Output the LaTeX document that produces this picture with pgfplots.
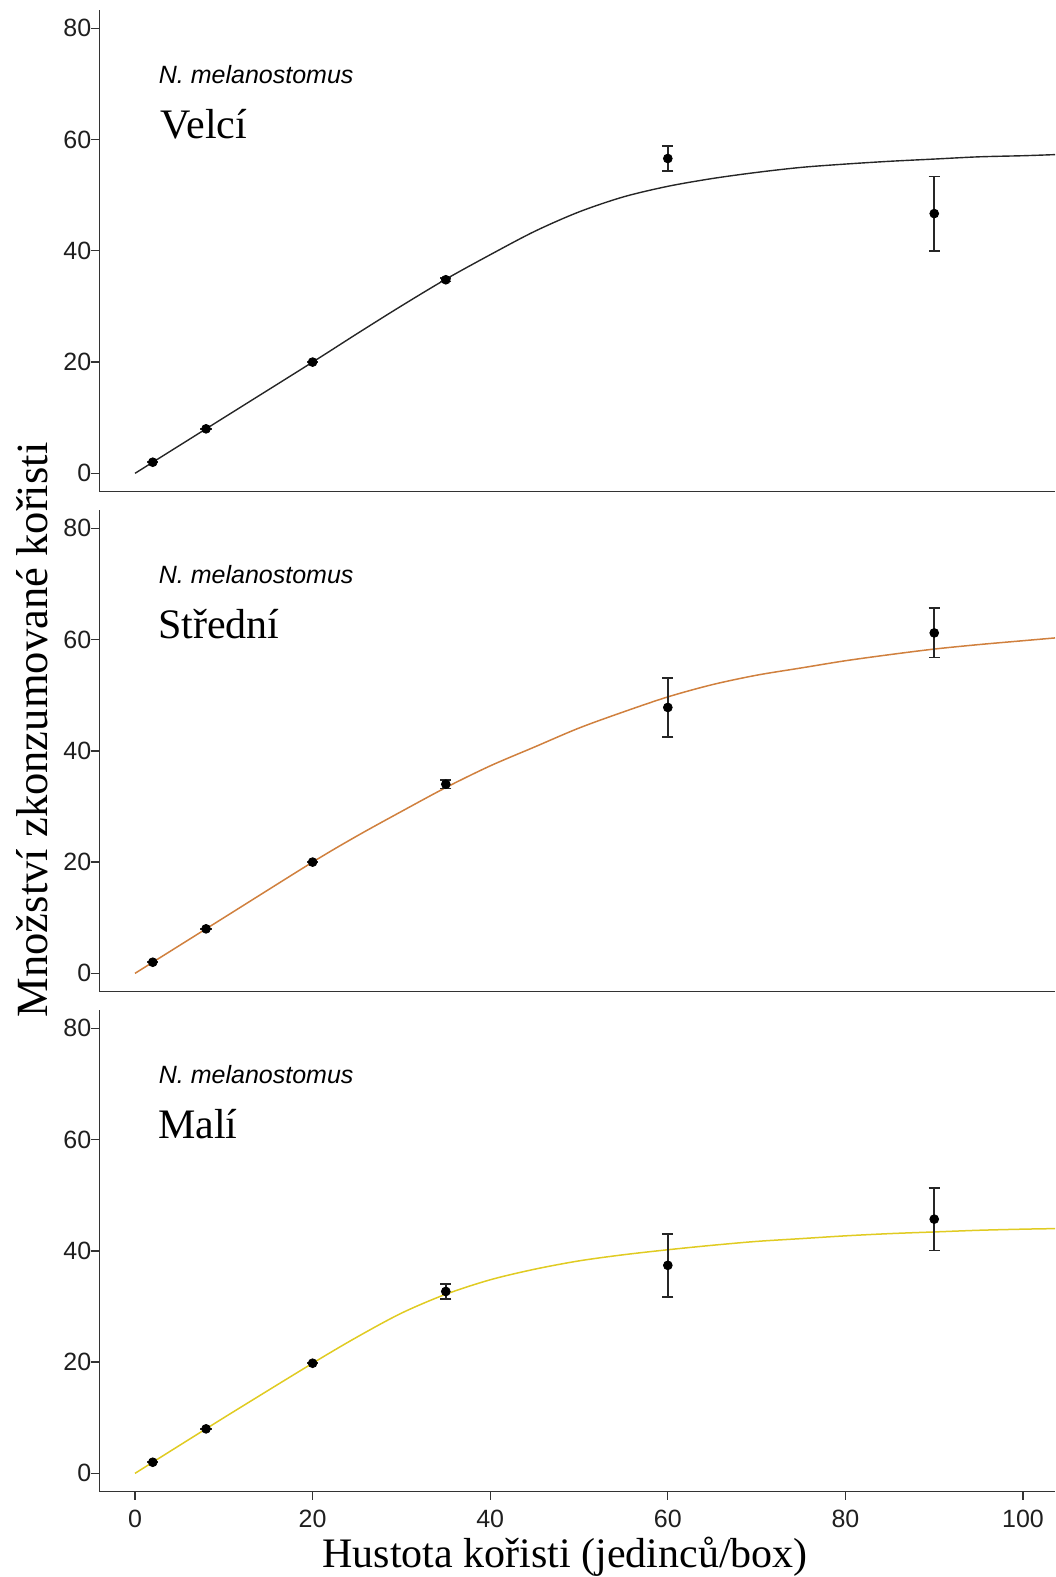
\documentclass[border=0pt]{standalone}
\usepackage{fontspec}
\setmainfont{Liberation Serif}
\newfontfamily\arial{Liberation Sans}
\usepackage{pgfplots}
\pgfplotsset{compat=1.18}
\usepackage{pgfplotstable}

\definecolor{axgray}{HTML}{333333}
\definecolor{orng}{HTML}{D0803E}
\definecolor{yllw}{HTML}{E0CB22}

% observed means and standard errors
\pgfplotstableread{
x y e
2 2 0
8 8 0
20 20 0
35 34.8 0.3
60 56.6 2.3
90 46.7 6.7
}\ptsA
\pgfplotstableread{
x y e
2 2 0
8 8 0
20 20 0
35 34.0 0.8
60 47.8 5.3
90 61.2 4.45
}\ptsB
\pgfplotstableread{
x y e
2 2 0
8 8 0
20 19.8 0
35 32.7 1.35
60 37.4 5.65
90 45.7 5.6
}\ptsC
% fitted curves
\pgfplotstableread{
x y
0 0
10 10
20 20
25 25.1
30 30.1
35 34.9
40 39.3
45 43.5
50 47.0
55 49.7
60 51.6
65 53.0
70 54.1
75 55.0
80 55.6
85 56.1
90 56.5
95 56.9
100 57.1
103.6 57.3
}\curveA
\pgfplotstableread{
x y
0 0
10 10
20 20
25 24.7
30 29.1
35 33.4
40 37.3
45 40.7
50 44.1
55 47.0
60 49.7
65 51.9
70 53.6
75 54.9
80 56.2
85 57.3
90 58.3
95 59.1
100 59.8
103.6 60.3
}\curveB
\pgfplotstableread{
x y
0 0
10 10
20 19.8
25 24.5
30 28.8
35 32.2
40 34.8
45 36.7
50 38.2
55 39.3
60 40.2
65 41.0
70 41.7
75 42.2
80 42.7
85 43.1
90 43.4
95 43.7
100 43.9
103.6 44.0
}\curveC

\pgfplotsset{
 panel/.style={
  scale only axis, width=477.85pt, height=240.85pt,
  xmin=-4.02, xmax=103.6, ymin=-3.3, ymax=83.3,
  axis x line*=bottom, axis y line*=left,
  axis line style={axgray, line width=0.65pt, -},
  ytick={0,20,40,60,80},
  tick align=outside, major tick length=4pt,
  tick style={axgray, line width=0.65pt},
  ticklabel style={font=\arial\fontsize{12.5}{14}\selectfont, text=black!88},
  yticklabel style={xshift=3.5pt},
  xticklabel style={yshift=-1.5pt},
  /pgf/number format/assume math mode=true,
  anchor=south west,
  clip=false,
 },
 pts/.style={only marks, mark=*, mark size=2.2pt, black, mark options={fill=black},
  error bars/.cd, y dir=both, y explicit,
  error bar style={line width=0.8pt, black!85},
  error mark options={rotate=90, mark size=2.8pt, line width=0.8pt, black!85}},
}
\newcommand{\spname}{\arial\itshape\fontsize{12.5}{14}\selectfont}
\newcommand{\grpfont}{\fontsize{21}{24}\selectfont}

\begin{document}
\begin{tikzpicture}
\path[use as bounding box] (0,0) rectangle (527.5pt,-788.5pt);

\begin{axis}[panel, at={(49.65pt,-245.85pt)}, xtick=\empty]
\addplot[black!85, line width=0.7pt, smooth] table {\curveA};
\addplot[pts] table[x=x,y=y,y error=e] {\ptsA};
\node[anchor=base west, font=\spname] at (axis cs:1.9,70) {N. melanostomus};
\node[anchor=base west, font=\grpfont] at (axis cs:2.1,60.2) {Velcí};
\end{axis}

\begin{axis}[panel, at={(49.65pt,-495.85pt)}, xtick=\empty,
  ylabel={Množství zkonzumované kořisti},
  ylabel style={at={(axis description cs:-0.0547,0.5433)}, anchor=base, font=\fontsize{22.3}{25}\selectfont}]
\addplot[orng, line width=0.75pt, smooth] table {\curveB};
\addplot[pts] table[x=x,y=y,y error=e] {\ptsB};
\node[anchor=base west, font=\spname] at (axis cs:1.9,70) {N. melanostomus};
\node[anchor=base west, font=\grpfont] at (axis cs:1.8,60.2) {Střední};
\end{axis}

\begin{axis}[panel, at={(49.65pt,-745.85pt)}, xtick={0,20,40,60,80,100},
  xlabel={Hustota kořisti (jedinců/box)},
  xlabel style={at={(axis description cs:0.4873,-0.1563)}, anchor=base, font=\fontsize{21}{24}\selectfont}]
\addplot[yllw, line width=0.75pt, smooth] table {\curveC};
\addplot[pts] table[x=x,y=y,y error=e] {\ptsC};
\node[anchor=base west, font=\spname] at (axis cs:1.9,70) {N. melanostomus};
\node[anchor=base west, font=\grpfont] at (axis cs:1.8,60.2) {Malí};
\end{axis}
\end{tikzpicture}
\end{document}
